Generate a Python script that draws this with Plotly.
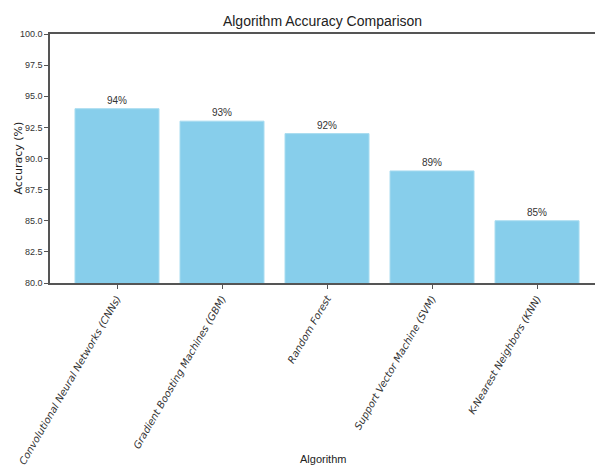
import plotly.graph_objects as go

algorithms = [
    "Convolutional Neural Networks (CNNs)",
    "Gradient Boosting Machines (GBM)",
    "Random Forest",
    "Support Vector Machine (SVM)",
    "K-Nearest Neighbors (KNN)",
]
accuracy = [94, 93, 92, 89, 85]
labels = [f"{v}%" for v in accuracy]
y_ticks = [80.0, 82.5, 85.0, 87.5, 90.0, 92.5, 95.0, 97.5, 100.0]

narrow = "Liberation Sans Narrow, Liberation Sans, Arial, sans-serif"

fig = go.Figure(
    go.Bar(
        x=list(range(len(algorithms))),
        y=accuracy,
        width=0.8,
        marker=dict(color="#87CEEB", line=dict(color="#a8dcf0", width=1)),
        text=labels,
        textposition="outside",
        textfont=dict(family=narrow, size=10, color="#333333"),
        cliponaxis=False,
    )
)

fig.update_layout(
    width=595,
    height=466,
    margin=dict(l=50, r=0, t=34, b=183),
    paper_bgcolor="white",
    plot_bgcolor="white",
    showlegend=False,
    title=dict(
        text="Algorithm Accuracy Comparison",
        x=0.5,
        xref="paper",
        xanchor="center",
        y=1 - 21 / 466,
        yanchor="middle",
        font=dict(family=narrow, size=14, color="#222222"),
    ),
)

fig.update_xaxes(
    range=[-0.638, 4.552],
    tickmode="array",
    tickvals=list(range(len(algorithms))),
    ticktext=[f"<i>{a}</i>" for a in algorithms],
    tickangle=-60,
    tickfont=dict(family="DejaVu Sans, sans-serif", size=10, color="#333333"),
    ticks="outside",
    ticklen=4,
    tickcolor="#555555",
    showline=True,
    linecolor="#555555",
    linewidth=1.5,
    mirror=True,
    showgrid=False,
    zeroline=False,
)

fig.update_yaxes(
    range=[80, 100],
    tickmode="array",
    tickvals=y_ticks,
    tickformat=".1f",
    tickfont=dict(family=narrow, size=9, color="#333333"),
    ticks="outside",
    ticklen=4,
    tickcolor="#555555",
    showline=True,
    linecolor="#555555",
    linewidth=1.5,
    showgrid=False,
    zeroline=False,
)

# y-axis title placed at the reference position
fig.add_annotation(
    text="Accuracy (%)",
    x=-32 / 545,
    xref="paper",
    y=0.5,
    yref="paper",
    xanchor="center",
    yanchor="middle",
    textangle=-90,
    showarrow=False,
    font=dict(family="DejaVu Sans, sans-serif", size=11, color="#222222"),
)

# x-axis title at the bottom of the figure
fig.add_annotation(
    text="Algorithm",
    x=0.5,
    xref="paper",
    y=-(466 - 34 - 249 - 7) / 249,
    yref="paper",
    xanchor="center",
    yanchor="middle",
    showarrow=False,
    font=dict(family=narrow, size=11, color="#222222"),
)

fig.write_html("out.html")
